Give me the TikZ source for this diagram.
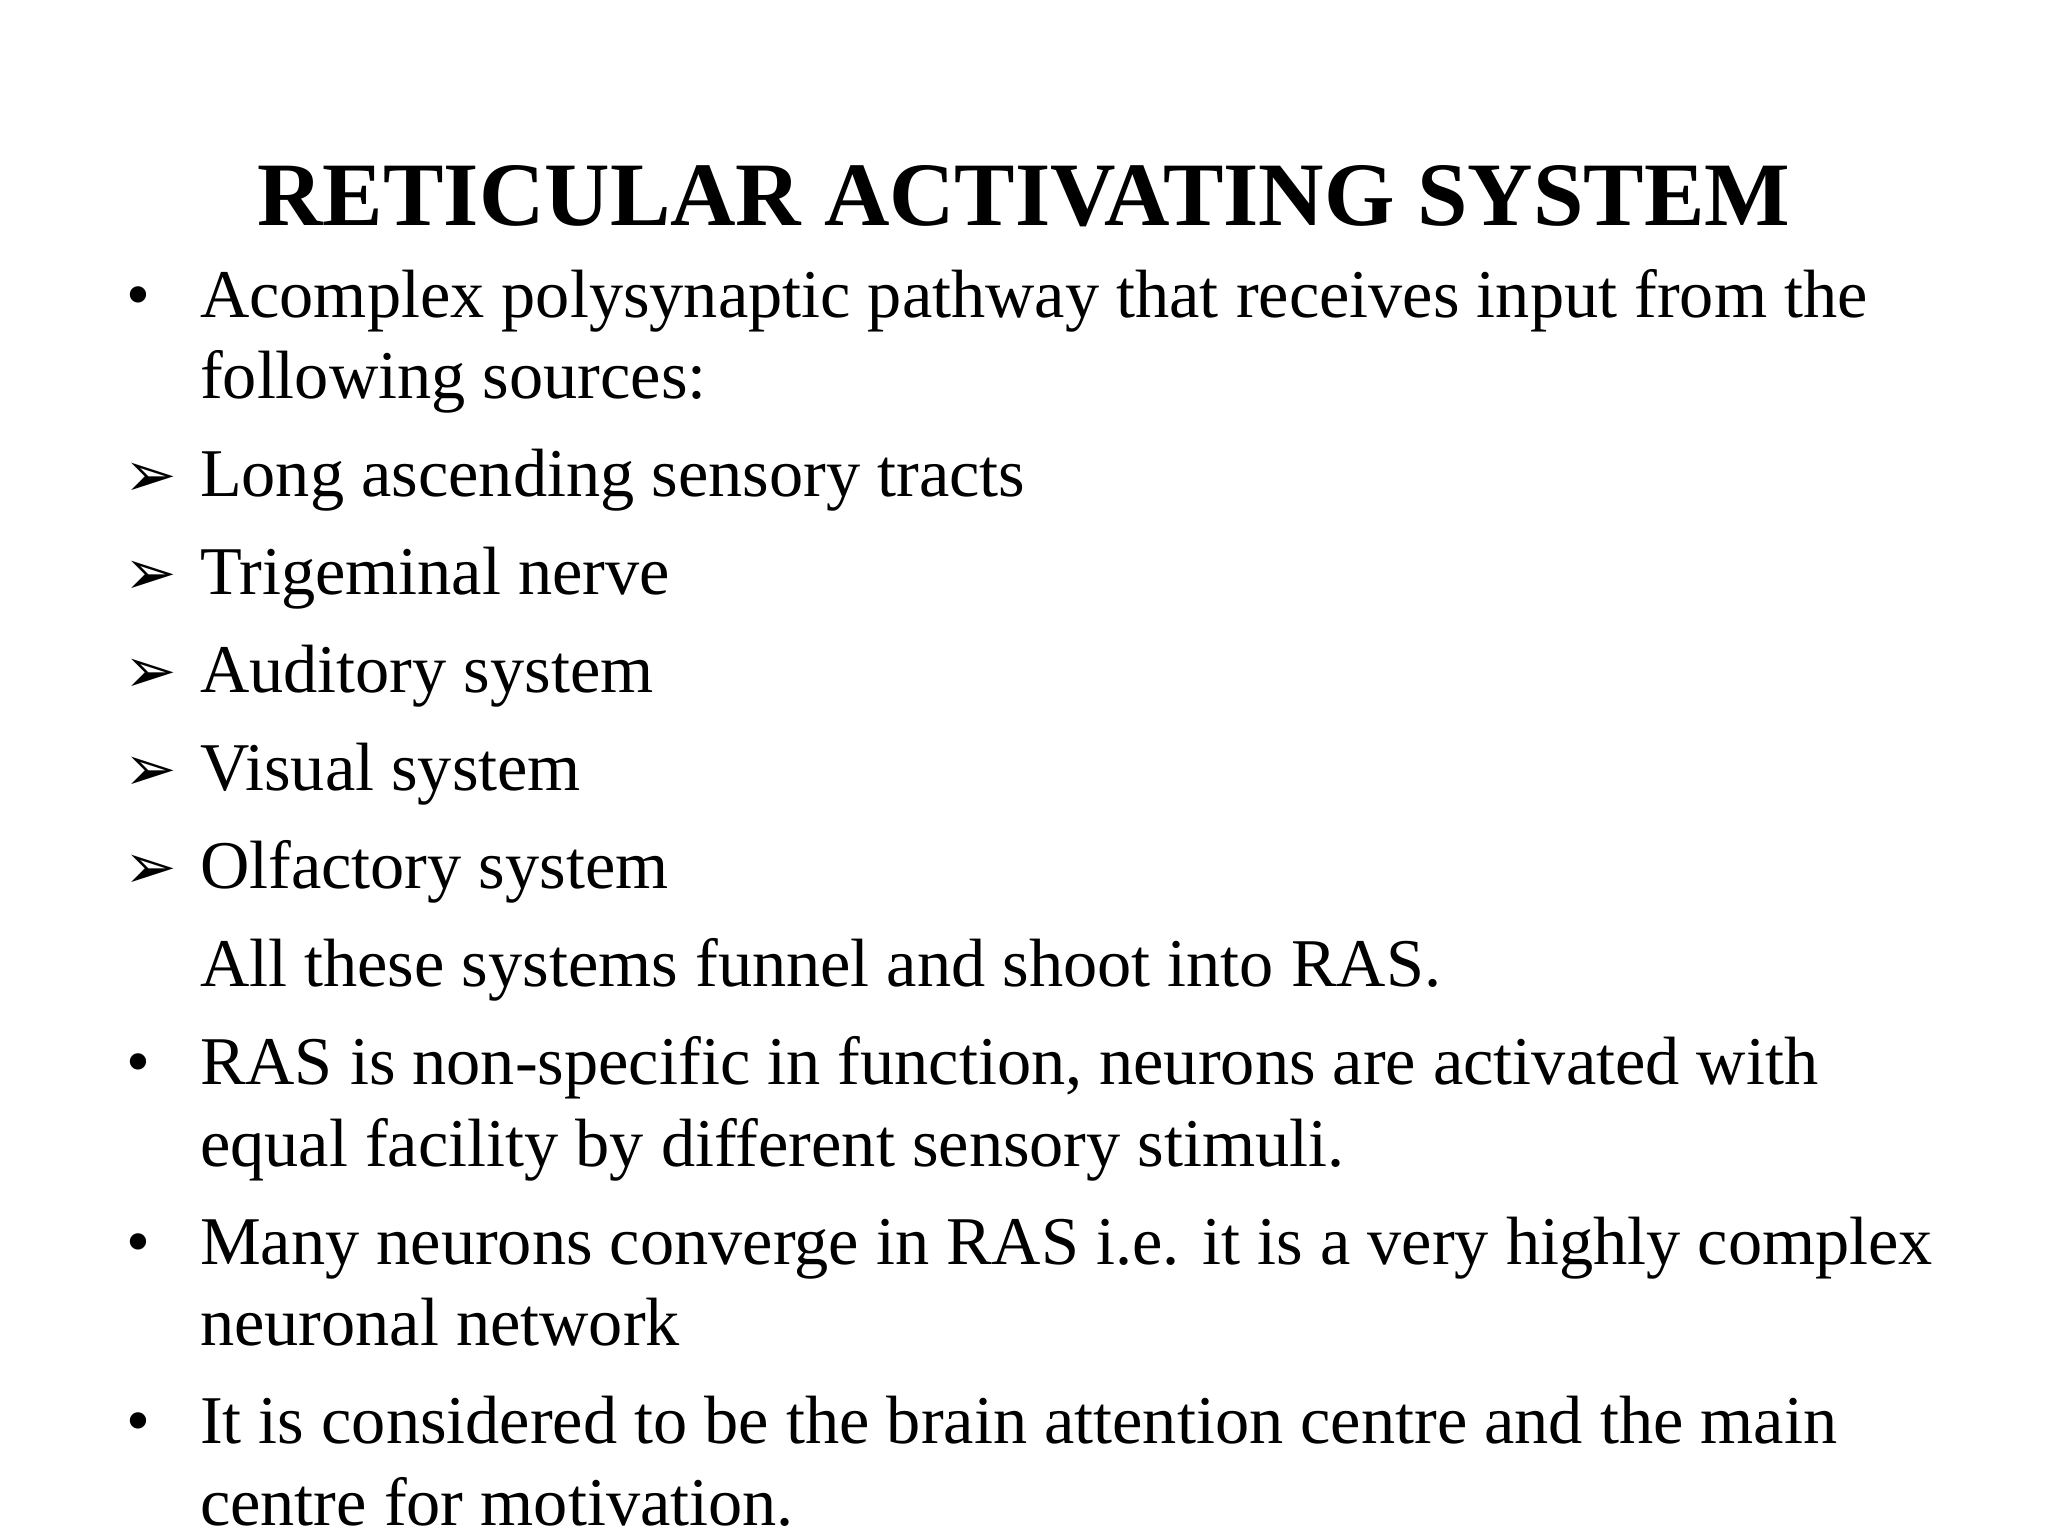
\documentclass[tikz,border=0pt]{standalone}
\usepackage{fontspec}
\setmainfont{Liberation Serif}
\newfontfamily\symfont{DejaVu Sans}
\begin{document}
\begin{tikzpicture}[x=1pt,y=1pt,
  txt/.style={anchor=base west,inner sep=0pt,font=\fontsize{52.3}{60}\selectfont},
  blt/.style={anchor=base west,inner sep=0pt,font=\fontsize{52.3}{60}\selectfont},
  arr/.style={anchor=base west,inner sep=0pt,font=\symfont\fontsize{48}{50}\selectfont}]
\useasboundingbox[fill=white] (0,0) rectangle (1568,1176);
\node[anchor=base,inner sep=0pt,font=\bfseries\fontsize{69.4}{74}\selectfont] (title) at (784,1176-173) {RETICULAR ACTIVATING SYSTEM};
\node[blt] (b1) at (97,1176-243) {•};
\node[txt] (l1) at (153,1176-243) {Acomplex polysynaptic pathway that receives input from the};
\node[txt] (l2) at (153,1176-305) {following sources:};
\node[arr] (a1) at (95,1176-380) {➢};
\node[txt] (s1) at (153,1176-380) {Long ascending sensory tracts};
\node[arr] (a2) at (95,1176-455) {➢};
\node[txt] (s2) at (153,1176-455) {Trigeminal nerve};
\node[arr] (a3) at (95,1176-530) {➢};
\node[txt] (s3) at (153,1176-530) {Auditory system};
\node[arr] (a4) at (95,1176-605) {➢};
\node[txt] (s4) at (153,1176-605) {Visual system};
\node[arr] (a5) at (95,1176-680) {➢};
\node[txt] (s5) at (153,1176-680) {Olfactory system};
\node[txt] (all) at (153,1176-755) {All these systems funnel and shoot into RAS.};
\node[blt] (b2) at (97,1176-830) {•};
\node[txt] (r1) at (153,1176-830) {RAS is non-specific in function, neurons are activated with};
\node[txt] (r2) at (153,1176-893) {equal facility by different sensory stimuli.};
\node[blt] (b3) at (97,1176-968) {•};
\node[txt] (m1) at (153,1176-968) {Many neurons converge in RAS i.e. it is a very highly complex};
\node[txt] (m2) at (153,1176-1030) {neuronal network};
\node[blt] (b4) at (97,1176-1105) {•};
\node[txt] (i1) at (153,1176-1105) {It is considered to be the brain attention centre and the main};
\node[txt] (i2) at (153,1176-1168) {centre for motivation.};
\end{tikzpicture}
\end{document}
